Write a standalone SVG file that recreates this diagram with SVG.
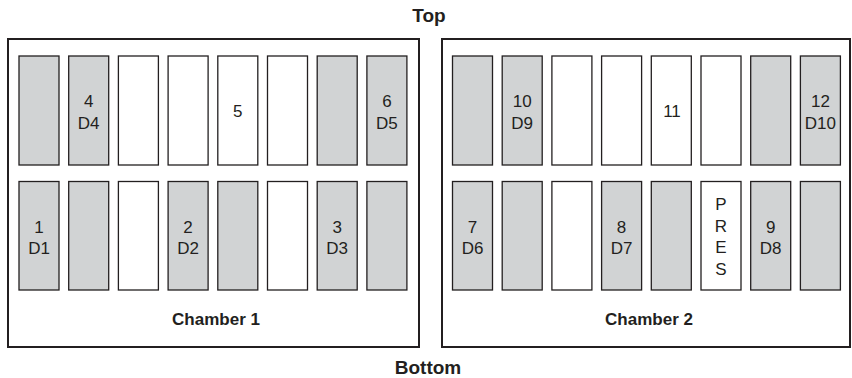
<svg xmlns="http://www.w3.org/2000/svg" width="852" height="378" viewBox="0 0 852 378">
<style>
.chamber{fill:#ffffff;stroke:#231f20;stroke-width:2}
.g{fill:#d1d3d4;stroke:#231f20;stroke-width:1.3}
.w{fill:#ffffff;stroke:#231f20;stroke-width:1.3}
text{font-family:"Liberation Sans",Arial,Helvetica,sans-serif;fill:#231f20;text-anchor:middle}
.lbl{font-size:17px}
.title{font-size:19px;font-weight:bold}
.ctitle{font-size:17px;font-weight:bold}
</style>
<rect width="852" height="378" fill="#ffffff"/>
<text class="title" x="429" y="21.5">Top</text>
<text class="title" x="428" y="374">Bottom</text>

<g id="chamber1">
<rect class="chamber" x="8" y="39" width="411" height="308"/>
<text class="ctitle" x="216" y="325">Chamber 1</text>
</g>
<g id="chamber2">
<rect class="chamber" x="442" y="39" width="408" height="308"/>
<text class="ctitle" x="649" y="325">Chamber 2</text>
</g>

<g id="c1-top-1"><rect class="g" x="19" y="56" width="40" height="109"/></g>
<g id="c1-top-2"><rect class="g" x="68.7" y="56" width="40" height="109"/><text class="lbl" x="88.7" y="107">4</text><text class="lbl" x="88.7" y="128.5">D4</text></g>
<g id="c1-top-3"><rect class="w" x="118.4" y="56" width="40" height="109"/></g>
<g id="c1-top-4"><rect class="w" x="168.1" y="56" width="40" height="109"/></g>
<g id="c1-top-5"><rect class="w" x="217.8" y="56" width="40" height="109"/><text class="lbl" x="237.8" y="117">5</text></g>
<g id="c1-top-6"><rect class="w" x="267.5" y="56" width="40" height="109"/></g>
<g id="c1-top-7"><rect class="g" x="317.2" y="56" width="40" height="109"/></g>
<g id="c1-top-8"><rect class="g" x="366.9" y="56" width="40" height="109"/><text class="lbl" x="386.9" y="107">6</text><text class="lbl" x="386.9" y="128.5">D5</text></g>

<g id="c1-bot-1"><rect class="g" x="19" y="181.5" width="40" height="108.5"/><text class="lbl" x="39" y="232.5">1</text><text class="lbl" x="39" y="254">D1</text></g>
<g id="c1-bot-2"><rect class="g" x="68.7" y="181.5" width="40" height="108.5"/></g>
<g id="c1-bot-3"><rect class="w" x="118.4" y="181.5" width="40" height="108.5"/></g>
<g id="c1-bot-4"><rect class="g" x="168.1" y="181.5" width="40" height="108.5"/><text class="lbl" x="188.1" y="232.5">2</text><text class="lbl" x="188.1" y="254">D2</text></g>
<g id="c1-bot-5"><rect class="g" x="217.8" y="181.5" width="40" height="108.5"/></g>
<g id="c1-bot-6"><rect class="w" x="267.5" y="181.5" width="40" height="108.5"/></g>
<g id="c1-bot-7"><rect class="g" x="317.2" y="181.5" width="40" height="108.5"/><text class="lbl" x="337.2" y="232.5">3</text><text class="lbl" x="337.2" y="254">D3</text></g>
<g id="c1-bot-8"><rect class="g" x="366.9" y="181.5" width="40" height="108.5"/></g>

<g id="c2-top-1"><rect class="g" x="452.5" y="56" width="40" height="109"/></g>
<g id="c2-top-2"><rect class="g" x="502.2" y="56" width="40" height="109"/><text class="lbl" x="522.2" y="107">10</text><text class="lbl" x="522.2" y="128.5">D9</text></g>
<g id="c2-top-3"><rect class="w" x="551.9" y="56" width="40" height="109"/></g>
<g id="c2-top-4"><rect class="w" x="601.6" y="56" width="40" height="109"/></g>
<g id="c2-top-5"><rect class="w" x="651.3" y="56" width="40" height="109"/><text class="lbl" x="672" y="117">11</text></g>
<g id="c2-top-6"><rect class="w" x="701" y="56" width="40" height="109"/></g>
<g id="c2-top-7"><rect class="g" x="750.7" y="56" width="40" height="109"/></g>
<g id="c2-top-8"><rect class="g" x="800.4" y="56" width="40" height="109"/><text class="lbl" x="820.4" y="107">12</text><text class="lbl" x="820.4" y="128.5">D10</text></g>

<g id="c2-bot-1"><rect class="g" x="452.5" y="181.5" width="40" height="108.5"/><text class="lbl" x="472.5" y="232.5">7</text><text class="lbl" x="472.5" y="254">D6</text></g>
<g id="c2-bot-2"><rect class="g" x="502.2" y="181.5" width="40" height="108.5"/></g>
<g id="c2-bot-3"><rect class="w" x="551.9" y="181.5" width="40" height="108.5"/></g>
<g id="c2-bot-4"><rect class="g" x="601.6" y="181.5" width="40" height="108.5"/><text class="lbl" x="621.6" y="232.5">8</text><text class="lbl" x="621.6" y="254">D7</text></g>
<g id="c2-bot-5"><rect class="g" x="651.3" y="181.5" width="40" height="108.5"/></g>
<g id="c2-bot-6"><rect class="w" x="701" y="181.5" width="40" height="108.5"/><text class="lbl" x="721" y="210">P</text><text class="lbl" x="721" y="231.5">R</text><text class="lbl" x="721" y="253">E</text><text class="lbl" x="721" y="274.5">S</text></g>
<g id="c2-bot-7"><rect class="g" x="750.7" y="181.5" width="40" height="108.5"/><text class="lbl" x="770.7" y="232.5">9</text><text class="lbl" x="770.7" y="254">D8</text></g>
<g id="c2-bot-8"><rect class="g" x="800.4" y="181.5" width="40" height="108.5"/></g>

<g id="connectors"></g>
</svg>
